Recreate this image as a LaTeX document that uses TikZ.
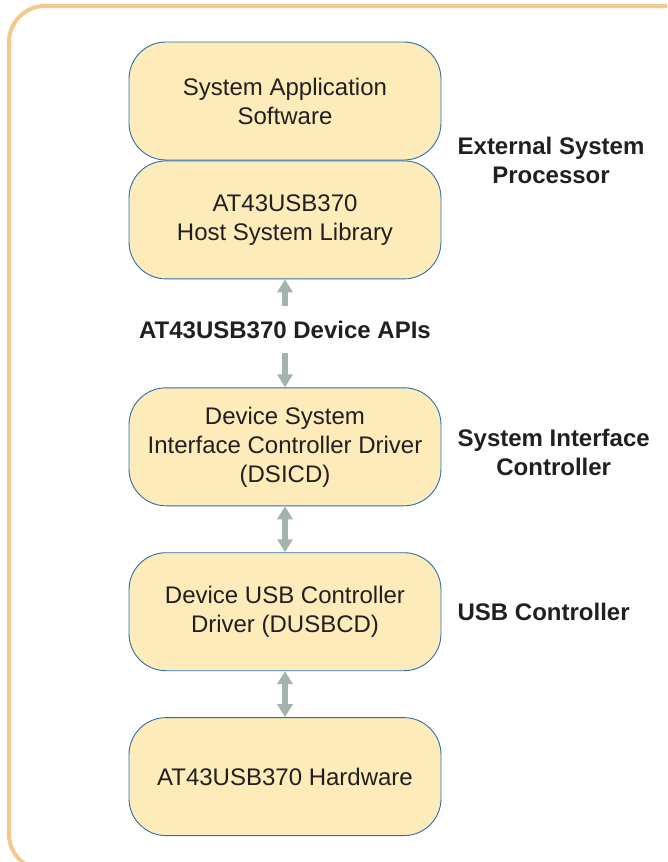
\documentclass[tikz,border=0pt]{standalone}
\usepackage{fontspec}
\setmainfont{Liberation Sans}
\usetikzlibrary{arrows.meta,positioning}
\definecolor{boxfill}{HTML}{FDEBBA}
\definecolor{boxline}{HTML}{2B6FA8}
\definecolor{framecol}{HTML}{F2C88C}
\definecolor{arrowcol}{HTML}{A2B4AD}
\definecolor{textcol}{HTML}{231F20}

\begin{document}
\begin{tikzpicture}[x=1pt, y=1pt, >={Triangle[width=15pt 0 0,length=13pt 0 0]}, node distance=46pt]
\tikzstyle{box}=[draw=boxline, fill=boxfill, line width=0.9pt, rounded corners=37pt, minimum width=312pt, minimum height=118pt, align=center, text=textcol, font=\fontsize{24}{29}\selectfont]
\tikzstyle{layer}=[inner sep=0pt, align=center, text=textcol, font=\fontsize{24}{29}\selectfont\bfseries]
\tikzstyle{link}=[draw=arrowcol, fill=arrowcol, line width=6pt]
\useasboundingbox (0,0) rectangle (667,-862);
\clip (0,0) rectangle (667,-862);
\draw[framecol, line width=4pt, rounded corners=36pt] (9,-6) rectangle (699,-870);
\node[box]    (sysapp)  at (285,-101)               {System Application\\Software};
\node[box]    (hostlib) [below=0pt of sysapp]       {AT43USB370\\Host System Library};
\node[layer, minimum height=46pt] (apis) [below=27pt of hostlib] {AT43USB370 Device APIs};
\node[box]    (dsicd)   [below=108pt of hostlib]    {Device System\\Interface Controller Driver\\(DSICD)};
\node[box]    (dusbcd)  [below=46pt of dsicd]       {Device USB Controller\\Driver (DUSBCD)};
\node[box]    (hw)      [below=46pt of dusbcd]      {AT43USB370 Hardware};
\node[layer]  (extproc) [right=16pt of sysapp.south east] {External System\\Processor};
\node[layer]  (sic)     [right=16pt of dsicd.east, yshift=-6pt] {System Interface\\Controller};
\node[layer]  (usbc)    [right=16pt of dusbcd.east] {USB Controller};
\path[link]
(apis)   edge[->]   (hostlib)
         edge[->]   (dsicd)
(dsicd)  edge[<->]  (dusbcd)
(dusbcd) edge[<->]  (hw);
\end{tikzpicture}
\end{document}
